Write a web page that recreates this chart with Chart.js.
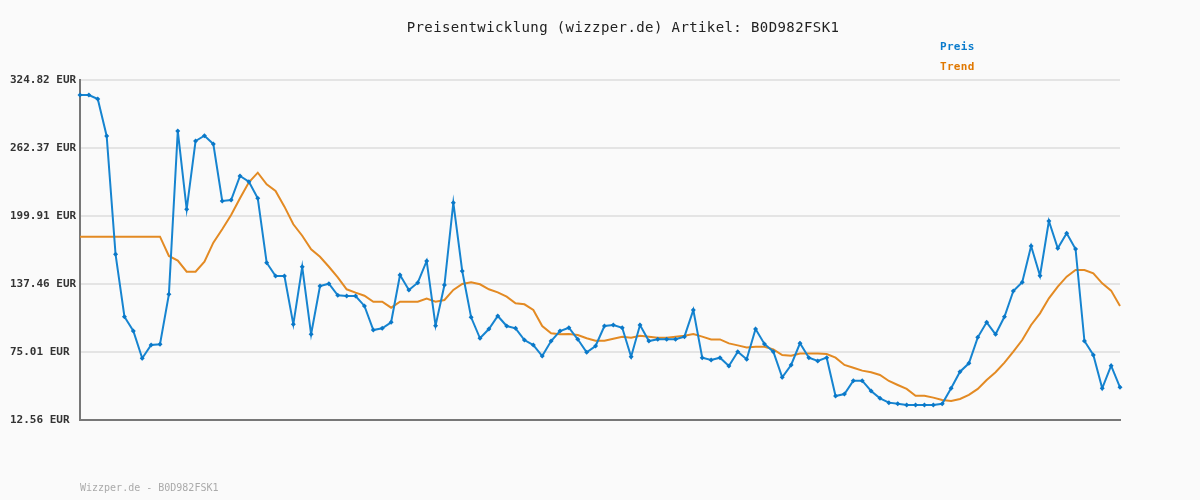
<!DOCTYPE html>
<html>
<head>
<meta charset="utf-8">
<script src="https://cdn.jsdelivr.net/npm/chart.js@4"></script>
<style>
  body { margin: 0; background: #fafafa; }
  canvas { display: block; }
</style>
</head>
<body>
<canvas id="priceChart" width="1200" height="500"></canvas>
<script>
const articleId = 'B0D982FSK1';
const yTicks = [12.56, 75.01, 137.46, 199.91, 262.37, 324.82];

const preis = [
  311.0, 311.0, 307.4, 273.4, 164.7, 107.4, 94.3, 69.2, 81.4, 82.1,
  128.0, 278.0, 206.1, 268.8, 273.7, 266.0, 213.7, 214.6, 236.7, 231.4,
  216.2, 157.0, 144.8, 144.8, 100.4, 153.3, 91.3, 135.6, 137.7, 127.1,
  126.4, 126.4, 117.3, 95.2, 96.8, 102.3, 145.7, 132.0, 138.7, 158.6,
  99.2, 136.5, 212.1, 149.4, 106.9, 87.6, 96.1, 108.1, 98.9, 96.8,
  86.0, 81.4, 71.3, 85.1, 94.3, 97.3, 86.7, 74.7, 80.5, 98.9,
  99.8, 97.3, 70.7, 99.8, 85.1, 86.7, 86.7, 86.7, 89.1, 113.6,
  69.8, 67.7, 69.8, 62.2, 75.3, 68.3, 96.1, 82.4, 75.3, 51.8,
  63.1, 83.0, 69.8, 66.7, 69.8, 34.6, 36.4, 48.7, 48.7, 39.2,
  32.5, 28.5, 27.5, 26.3, 26.3, 26.3, 26.3, 27.5, 41.7, 56.9,
  64.6, 88.5, 102.3, 91.3, 107.4, 131.0, 139.0, 172.4, 145.1, 195.3,
  170.3, 184.0, 169.6, 85.1, 72.3, 41.7, 62.4, 42.6
];

const trend = [
  180.9, 180.9, 180.9, 180.9, 180.9, 180.9, 180.9, 180.9, 180.9, 180.9,
  163.2, 158.9, 148.8, 148.8, 158.0, 175.4, 187.7, 200.8, 216.2, 230.9,
  239.7, 229.0, 222.9, 208.5, 192.3, 181.8, 169.3, 162.5, 153.3, 143.6,
  132.6, 129.5, 126.7, 121.2, 121.2, 115.7, 121.2, 121.2, 121.2, 124.0,
  121.2, 122.8, 132.0, 137.5, 139.0, 137.2, 132.6, 129.8, 125.8, 119.7,
  118.8, 113.6, 98.9, 92.2, 91.3, 91.6, 90.6, 87.6, 85.4, 85.4,
  87.2, 89.1, 88.2, 90.0, 89.1, 88.2, 88.2, 89.1, 90.0, 91.6,
  89.1, 86.6, 86.6, 82.9, 81.1, 79.2, 79.8, 79.8, 77.4, 72.2,
  71.6, 73.7, 73.7, 73.7, 73.1, 69.8, 63.1, 60.6, 57.9, 56.4,
  53.9, 48.4, 44.7, 41.1, 34.9, 34.9, 33.1, 31.0, 30.1, 31.9,
  35.6, 41.1, 49.3, 56.4, 65.2, 75.3, 86.0, 99.8, 110.5, 124.3,
  135.0, 144.2, 150.3, 150.3, 147.2, 138.1, 131.4, 117.3
];

const labels = preis.map((_, i) => String(i + 1));

// title, legend texts and footer drawn straight onto the canvas
const textPlugin = {
  id: 'texts',
  afterDraw(chart) {
    const ctx = chart.ctx;
    ctx.save();
    ctx.textBaseline = 'middle';
    ctx.textAlign = 'center';
    ctx.letterSpacing = '0.4px';
    ctx.font = '14px "DejaVu Sans Mono"';
    ctx.fillStyle = '#222';
    ctx.fillText('Preisentwicklung (wizzper.de) Artikel: ' + articleId, 623, 28);

    ctx.letterSpacing = '0.3px';
    ctx.textAlign = 'left';
    ctx.font = 'bold 11px "DejaVu Sans Mono"';
    ctx.fillStyle = '#0a7bcc';
    ctx.fillText('Preis', 940, 47);
    ctx.fillStyle = '#e07800';
    ctx.fillText('Trend', 940, 67);

    ctx.letterSpacing = '0px';
    ctx.font = '10px "DejaVu Sans Mono"';
    ctx.fillStyle = '#aaa';
    ctx.fillText('Wizzper.de - ' + articleId, 80, 488);
    ctx.restore();
  }
};

new Chart(document.getElementById('priceChart'), {
  type: 'line',
  data: {
    labels: labels,
    datasets: [
      {
        label: 'Preis',
        data: preis,
        borderColor: '#1684d0',
        backgroundColor: '#0a78c8',
        borderWidth: 2,
        pointStyle: 'rectRot',
        pointRadius: 2.5,
        pointBorderWidth: 0,
        tension: 0,
        order: 1
      },
      {
        label: 'Trend',
        data: trend,
        borderColor: '#e38a23',
        borderWidth: 2,
        pointRadius: 0,
        tension: 0,
        order: 2
      }
    ]
  },
  options: {
    responsive: false,
    animation: false,
    layout: { padding: { left: 10, right: 80, top: 80, bottom: 80 } },
    plugins: {
      legend: { display: false },
      title: { display: false },
      tooltip: { enabled: false }
    },
    scales: {
      x: {
        ticks: { display: false },
        grid: { display: false, drawTicks: false },
        border: { display: true, color: '#777', width: 2 },
        afterFit(scale) { scale.height = 0; }
      },
      y: {
        min: 12.56,
        max: 324.82,
        afterBuildTicks(scale) {
          scale.ticks = yTicks.map(v => ({ value: v }));
        },
        afterFit(scale) { scale.width = 70; },
        ticks: {
          crossAlign: 'far',
          color: '#333',
          font: { family: 'DejaVu Sans Mono', size: 11, weight: 'bold' },
          callback: v => v.toFixed(2) + ' EUR'
        },
        grid: { color: '#e4e4e4', lineWidth: 2, drawTicks: false },
        border: { display: true, color: '#777', width: 2 }
      }
    }
  },
  plugins: [textPlugin]
});
</script>
</body>
</html>
